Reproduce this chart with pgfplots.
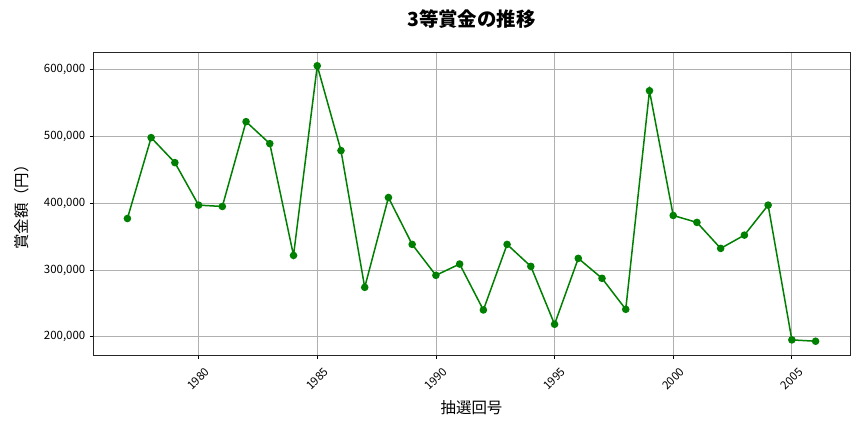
\documentclass[border=0pt]{standalone}
\usepackage{fontspec}
\setmainfont{Noto Sans CJK JP}
\usepackage{pgfplots}
\pgfplotsset{compat=1.18}
\definecolor{mplgreen}{HTML}{008000}
\definecolor{gridgray}{HTML}{B0B0B0}

\pgfplotstableread{
year prize
1977 377300
1978 498400
1979 461000
1980 397300
1981 395300
1982 522300
1983 489400
1984 322000
1985 606000
1986 479000
1987 274200
1988 408700
1989 338500
1990 292200
1991 309100
1992 240300
1993 338500
1994 305600
1995 218900
1996 317600
1997 287700
1998 241300
1999 568600
2000 381800
2001 371400
2002 332500
2003 352400
2004 397300
2005 195500
2006 193500
}\prizedata

\begin{document}
\begin{tikzpicture}
\path[use as bounding box] (0,0) rectangle (864bp,432bp);
\begin{axis}[
    at={(93bp,77bp)}, anchor=south west,
    width=757bp, height=303bp, scale only axis,
    xmin=1975.55, xmax=2007.45,
    ymin=172875, ymax=626625,
    xtick={1980,1985,...,2005},
    ytick={200000,300000,...,600000},
    scaled y ticks=false,
    tick pos=left,
    tick align=outside,
    major tick length=3.5bp,
    tick style={black, line width=0.8bp},
    axis line style={line width=0.8bp, black!85},
    grid=major,
    grid style={gridgray, line width=0.8bp},
    /pgf/number format/assume math mode=true,
    ticklabel style={font=\fontsize{11.5}{13}\selectfont},
    xticklabel style={/pgf/number format/1000 sep={}, anchor=center, yshift=-20.5bp, rotate=45},
    yticklabel style={/pgf/number format/fixed, /pgf/number format/1000 sep={,}, anchor=east, inner sep=0pt, xshift=-4bp},
    title={\bfseries 3等賞金の推移},
    title style={font=\fontsize{19.5}{22}\selectfont, at={(axis description cs:0.5,1)}, anchor=center, yshift=26.5bp},
    xlabel={抽選回号},
    xlabel style={font=\fontsize{15.5}{17}\selectfont, at={(axis description cs:0.5,0)}, anchor=center, yshift=-52.5bp},
    ylabel={賞金額（円）},
    ylabel style={font=\fontsize{15.5}{17}\selectfont, at={(axis description cs:0,0.5)}, anchor=center, yshift=71bp},
]
\addplot[mplgreen, line width=1.5bp, mark=*, mark size=3bp, mark options={solid, fill=mplgreen, draw=mplgreen}] table[x=year, y=prize] {\prizedata};
\end{axis}
\end{tikzpicture}
\end{document}
